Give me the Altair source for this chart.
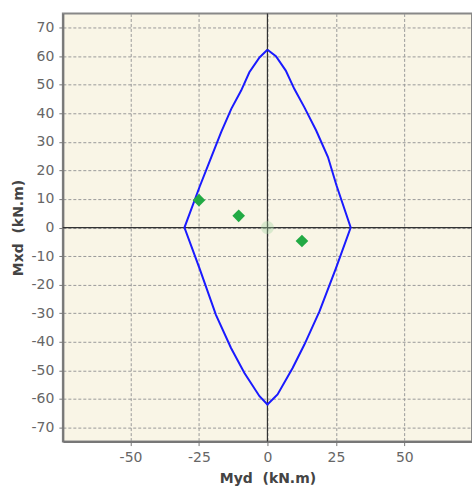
import altair as alt
import pandas as pd

# Interaction diagram (closed curve)
curve_x = [0.0, 3.1, 6.7, 9.8, 13.5, 17.8, 22.1, 25.2, 30.4,
           25.0, 19.0, 13.5, 9.2, 3.7, 0.0,
           -2.9, -8.4, -13.3, -18.8, -24.8, -30.3,
           -24.8, -20.5, -16.9, -13.2, -9.6, -6.6, -2.9, 0.0]
curve_y = [62.3, 60.0, 55.0, 48.6, 42.1, 34.0, 24.7, 14.8, 0.0,
           -14.3, -29.4, -41.0, -49.2, -58.5, -62.0,
           -59.1, -51.0, -42.2, -30.6, -14.3, 0.0,
           14.2, 24.7, 33.4, 41.6, 48.0, 54.4, 59.6, 62.3]

# Load points
pt_x = [-25.0, -10.5, 12.6]
pt_y = [9.6, 4.1, -4.7]

# Origin marker
origin_x = [0.0]
origin_y = [0.0]

x_ticks = [-50, -25, 0, 25, 50]
y_ticks = [-70, -60, -50, -40, -30, -20, -10, 0, 10, 20, 30, 40, 50, 60, 70]

curve = pd.DataFrame({"x": curve_x, "y": curve_y, "o": list(range(len(curve_x)))})
pts = pd.DataFrame({"x": pt_x, "y": pt_y})
org = pd.DataFrame({"x": origin_x, "y": origin_y})

FONT = "DejaVu Sans"
xs = alt.Scale(domain=[-74.7, 74.7], nice=False, zero=False)
ys = alt.Scale(domain=[-75, 75], nice=False, zero=False)

common = dict(grid=True, gridColor="#9a9a9a", gridDash=[3, 2], gridWidth=1,
              domainColor="#777777", domainWidth=2,
              tickColor="#777777", tickSize=4, labelPadding=5,
              labelFont=FONT, labelFontSize=14, labelColor="#666666",
              labelExpr="'' + datum.value",
              titleFont=FONT, titleFontSize=14, titleFontWeight="bold",
              titleColor="#444444")
xaxis = alt.Axis(values=x_ticks, title="Myd \u00a0(kN.m)", titlePadding=7, **common)
yaxis = alt.Axis(values=y_ticks, title="Mxd \u00a0(kN.m)", titlePadding=6, **common)

base_x = alt.X("x:Q", scale=xs, axis=xaxis)
base_y = alt.Y("y:Q", scale=ys, axis=yaxis)

zero_v = alt.Chart(pd.DataFrame({"x": [0]})).mark_rule(color="#333333", strokeWidth=1.2).encode(
    x=alt.X("x:Q", scale=xs, axis=xaxis))
zero_h = alt.Chart(pd.DataFrame({"y": [0]})).mark_rule(color="#333333", strokeWidth=1.2).encode(
    y=alt.Y("y:Q", scale=ys, axis=yaxis))

line = alt.Chart(curve).mark_line(color="#1a1aff", strokeWidth=2).encode(
    x=base_x, y=base_y, order="o:Q")

origin = alt.Chart(org).mark_circle(color="#9fd39f", opacity=0.35, size=170).encode(
    x=base_x, y=base_y)

diamonds = alt.Chart(pts).mark_point(shape="diamond", filled=True, color="#22aa44",
                                     opacity=1, size=160).encode(x=base_x, y=base_y)

chart = alt.layer(zero_v, zero_h, origin, line, diamonds).properties(
    width=410, height=429,
    autosize=alt.AutoSizeParams(type="none"),
    padding={"left": 63, "top": 13, "right": 0, "bottom": 47},
    background="white",
).configure_view(fill="#f9f5e6", stroke="#888888", strokeWidth=2)

chart.save("out.html", embed_options={"renderer": "svg", "actions": False})
